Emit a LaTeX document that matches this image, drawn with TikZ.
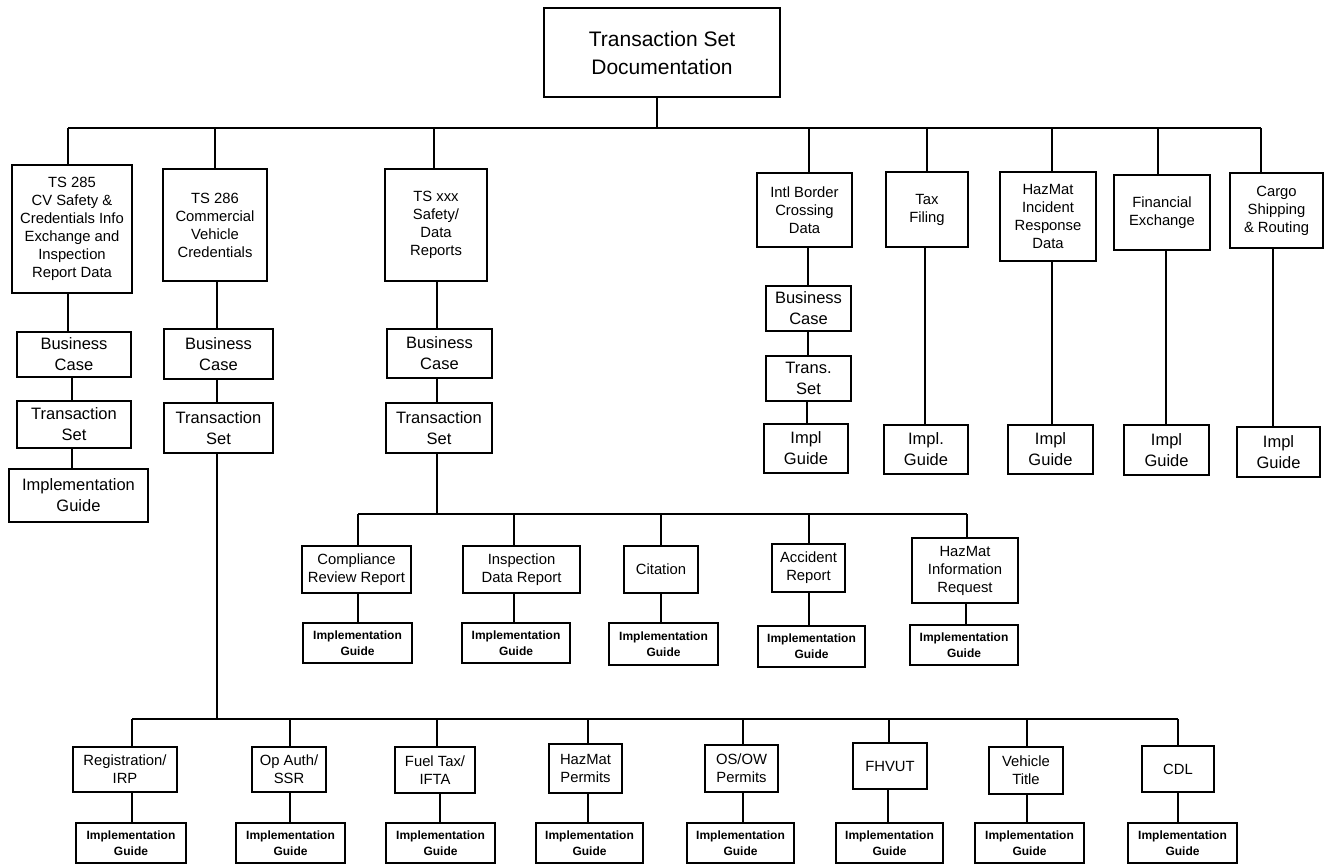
\documentclass[tikz,border=0pt]{standalone}
\usepackage{fontspec}
\setmainfont{Liberation Sans}
\begin{document}
\begin{tikzpicture}[x=1pt,y=-1pt,
  box/.style={draw, line width=1.4pt, align=center, inner sep=0pt},
  ln/.style={line width=1.3pt},
  big/.style={font=\fontsize{21}{28}\selectfont},
  lab/.style={font=\fontsize{14.8}{18}\selectfont},
  mid/.style={font=\fontsize{16.5}{21}\selectfont},
  sm/.style={font=\bfseries\fontsize{12}{16}\selectfont}]
\useasboundingbox (0,0) rectangle (1330,864);

% top
\node[box,big,minimum width=236,minimum height=89] (top) at (662,52.5) {Transaction Set\\Documentation};

% level 1
\node[box,lab,minimum width=120,minimum height=128] (a1) at (72,229) {TS 285\\CV Safety \&\\Credentials Info\\Exchange and\\Inspection\\Report Data};
\node[box,lab,minimum width=104,minimum height=112] (a2) at (215,225) {TS 286\\Commercial\\Vehicle\\Credentials};
\node[box,lab,minimum width=102,minimum height=112] (a3) at (436,225) {TS xxx\\Safety/\\Data\\Reports};
\node[box,lab,minimum width=95,minimum height=74] (a4) at (804.5,210) {Intl Border\\Crossing\\Data};
\node[box,lab,minimum width=82,minimum height=75] (a5) at (927,209.5) {Tax\\Filing};
\node[box,lab,minimum width=96,minimum height=89] (a6) at (1048,216.5) {HazMat\\Incident\\Response\\Data};
\node[box,lab,minimum width=96,minimum height=75] (a7) at (1162,212.5) {Financial\\Exchange};
\node[box,lab,minimum width=93,minimum height=75] (a8) at (1276.5,210.5) {Cargo\\Shipping\\\& Routing};

% level 2
\node[box,mid,minimum width=114,minimum height=45] (b1) at (74,354.5) {Business\\Case};
\node[box,mid,minimum width=114,minimum height=47] (c1) at (74,424.5) {Transaction\\Set};
\node[box,mid,minimum width=139,minimum height=53] (d1) at (78.5,495.5) {Implementation\\Guide};

\node[box,mid,minimum width=109,minimum height=50] (b2) at (218.5,354) {Business\\Case};
\node[box,mid,minimum width=109,minimum height=50] (c2) at (218.5,428) {Transaction\\Set};

\node[box,mid,minimum width=105,minimum height=49] (b3) at (439.5,353.5) {Business\\Case};
\node[box,mid,minimum width=106,minimum height=50] (c3) at (439,428) {Transaction\\Set};

\node[box,mid,minimum width=85,minimum height=45] (b4) at (808.5,308.5) {Business\\Case};
\node[box,mid,minimum width=85,minimum height=45] (c4) at (808.5,378.5) {Trans.\\Set};
\node[box,mid,minimum width=84,minimum height=49] (d4) at (806,448.5) {Impl\\Guide};

\node[box,mid,minimum width=84,minimum height=49] (d5) at (926,449.5) {Impl.\\Guide};
\node[box,mid,minimum width=85,minimum height=49] (d6) at (1050.5,449.5) {Impl\\Guide};
\node[box,mid,minimum width=85,minimum height=50] (d7) at (1166.5,450) {Impl\\Guide};
\node[box,mid,minimum width=83,minimum height=50] (d8) at (1278.5,452) {Impl\\Guide};

% middle row
\node[box,lab,minimum width=109,minimum height=47] (e1) at (356.5,569.5) {Compliance\\Review Report};
\node[box,lab,minimum width=117,minimum height=47] (e2) at (521.5,569.5) {Inspection\\Data Report};
\node[box,lab,minimum width=74,minimum height=47] (e3) at (661,569.5) {Citation};
\node[box,lab,minimum width=73,minimum height=48] (e4) at (808.5,568) {Accident\\Report};
\node[box,lab,minimum width=106,minimum height=65] (e5) at (965,570.5) {HazMat\\Information\\Request};

\node[box,sm,minimum width=109,minimum height=40] (f1) at (357.5,643) {Implementation\\Guide};
\node[box,sm,minimum width=108,minimum height=40] (f2) at (516,643) {Implementation\\Guide};
\node[box,sm,minimum width=109,minimum height=42] (f3) at (663.5,644) {Implementation\\Guide};
\node[box,sm,minimum width=107,minimum height=41] (f4) at (811.5,646.5) {Implementation\\Guide};
\node[box,sm,minimum width=108,minimum height=40] (f5) at (964,645) {Implementation\\Guide};

% bottom row
\node[box,lab,minimum width=104,minimum height=45] (g1) at (125,769.5) {Registration/\\IRP};
\node[box,lab,minimum width=74,minimum height=45] (g2) at (289,769.5) {Op Auth/\\SSR};
\node[box,lab,minimum width=80,minimum height=46] (g3) at (435,770) {Fuel Tax/\\IFTA};
\node[box,lab,minimum width=73,minimum height=49] (g4) at (585.5,768.5) {HazMat\\Permits};
\node[box,lab,minimum width=73,minimum height=47] (g5) at (741.5,768.5) {OS/OW\\Permits};
\node[box,lab,minimum width=74,minimum height=46] (g6) at (890,766) {FHVUT};
\node[box,lab,minimum width=74,minimum height=47] (g7) at (1026,770.5) {Vehicle\\Title};
\node[box,lab,minimum width=72,minimum height=46] (g8) at (1178,769) {CDL};

\node[box,sm,minimum width=110,minimum height=40] (h1) at (131,843) {Implementation\\Guide};
\node[box,sm,minimum width=109,minimum height=40] (h2) at (290.5,843) {Implementation\\Guide};
\node[box,sm,minimum width=109,minimum height=40] (h3) at (440.5,843) {Implementation\\Guide};
\node[box,sm,minimum width=107,minimum height=40] (h4) at (589.5,843) {Implementation\\Guide};
\node[box,sm,minimum width=107,minimum height=40] (h5) at (740.5,843) {Implementation\\Guide};
\node[box,sm,minimum width=107,minimum height=40] (h6) at (889.5,843) {Implementation\\Guide};
\node[box,sm,minimum width=109,minimum height=40] (h7) at (1029.5,843) {Implementation\\Guide};
\node[box,sm,minimum width=109,minimum height=40] (h8) at (1182.5,843) {Implementation\\Guide};

% buses
\coordinate (busA) at (0,128);
\coordinate (busM) at (0,514);
\coordinate (busB) at (0,719);

\draw[ln] ([xshift=-5]top.south) -- ([xshift=-5]top.south |- busA);
\draw[ln] ([xshift=-4]a1.north |- busA) -- ([xshift=-15.5]a8.north |- busA);
\foreach \n/\s in {a1/-4,a2/0,a3/-2,a4/4.5,a5/0,a6/4,a7/-4,a8/-15.5}
  \draw[ln] ([xshift=\s]\n.north) -- ([xshift=\s]\n.north |- busA);

% column connectors
\foreach \u/\l/\s in {a1/b1/-4,b1/c1/-2,c1/d1/-2,a2/b2/2,b2/c2/-1.5,a3/b3/1,b3/c3/-2.5,
    a4/b4/3.5,b4/c4/-0.5,c4/d4/-1.5,a5/d5/-2,a6/d6/4,a7/d7/4,a8/d8/-3.5,
    e1/f1/1.5,e2/f2/-7.5,e3/f3/0,e4/f4/0.5,e5/f5/1,
    g1/h1/7,g2/h2/1,g3/h3/5,g4/h4/2.5,g5/h5/1.5,g6/h6/-2,g7/h7/1,g8/h8/0}
  \draw[ln] ([xshift=\s]\u.south) -- ([xshift=\s]\u.south |- \l.north);

% middle bus
\draw[ln] ([xshift=-2]c3.south) -- ([xshift=-2]c3.south |- busM);
\draw[ln] ([xshift=1.5]e1.north |- busM) -- ([xshift=2]e5.north |- busM);
\foreach \n/\s in {e1/1.5,e2/-7.5,e3/0,e4/0.5,e5/2}
  \draw[ln] ([xshift=\s]\n.north) -- ([xshift=\s]\n.north |- busM);

% bottom bus
\draw[ln] ([xshift=-1.5]c2.south) -- ([xshift=-1.5]c2.south |- busB);
\draw[ln] ([xshift=7]g1.north |- busB) -- ([xshift=0]g8.north |- busB);
\foreach \n/\s in {g1/7,g2/1,g3/2,g4/2.5,g5/1.5,g6/-1,g7/1,g8/0}
  \draw[ln] ([xshift=\s]\n.north) -- ([xshift=\s]\n.north |- busB);
\end{tikzpicture}
\end{document}
